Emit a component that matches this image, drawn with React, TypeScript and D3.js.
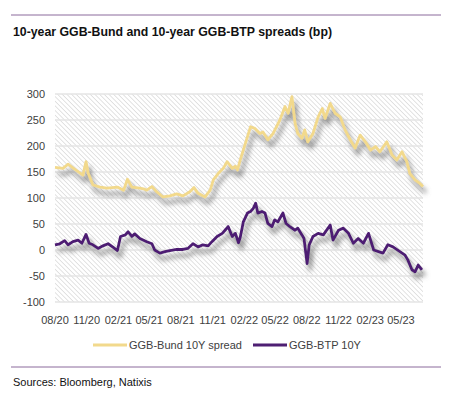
import React from 'react'
import * as d3 from 'd3'

const bundDates = [
  '2020-08-01', '2020-08-24', '2020-09-08', '2020-09-22', '2020-10-13', '2020-10-21', '2020-10-30', '2020-11-05',
  '2020-11-19', '2020-12-10', '2020-12-30', '2021-01-29', '2021-02-16', '2021-02-27', '2021-03-12', '2021-04-04',
  '2021-04-18', '2021-04-24', '2021-05-09', '2021-05-23', '2021-06-10', '2021-06-30', '2021-07-20', '2021-08-07',
  '2021-08-27', '2021-09-08', '2021-09-20', '2021-10-10', '2021-10-25', '2021-11-03', '2021-11-17', '2021-12-02',
  '2021-12-13', '2021-12-28', '2022-01-06', '2022-01-12', '2022-01-20', '2022-02-04', '2022-02-19', '2022-03-03',
  '2022-03-18', '2022-03-27', '2022-04-10', '2022-04-25', '2022-05-15', '2022-05-30', '2022-06-08', '2022-06-19',
  '2022-06-28', '2022-07-06', '2022-07-18', '2022-07-26', '2022-08-04', '2022-08-19', '2022-09-03', '2022-09-15',
  '2022-09-23', '2022-10-08', '2022-10-22', '2022-11-06', '2022-11-20', '2022-12-05', '2022-12-19', '2023-01-03',
  '2023-01-18', '2023-02-02', '2023-02-16', '2023-03-01', '2023-03-21', '2023-04-05', '2023-04-19', '2023-05-04',
  '2023-05-18', '2023-05-27', '2023-06-11', '2023-06-25', '2023-07-04',
]
const bundValues = [
  159, 157, 165, 158, 148, 144, 170, 148,
  125, 121, 119, 121, 115, 136, 121, 119,
  117, 115, 122, 112, 102, 104, 108, 104,
  112, 120, 109, 102, 115, 135, 147, 157,
  170, 157, 161, 154, 173, 205, 237, 234,
  224, 227, 212, 224, 250, 276, 263, 295,
  244, 224, 215, 231, 208, 224, 256, 272,
  253, 282, 263, 256, 231, 212, 196, 221,
  208, 192, 199, 189, 208, 183, 173, 189,
  170, 147, 135, 128, 122,
]

const btpDates = [
  '2020-08-01', '2020-08-15', '2020-08-29', '2020-09-08', '2020-09-22', '2020-10-07', '2020-10-18', '2020-10-30',
  '2020-11-08', '2020-11-19', '2020-12-04', '2020-12-18', '2021-01-02', '2021-01-17', '2021-01-29', '2021-02-07',
  '2021-02-21', '2021-03-01', '2021-03-12', '2021-03-20', '2021-04-04', '2021-04-24', '2021-05-09', '2021-05-17',
  '2021-06-01', '2021-06-16', '2021-06-30', '2021-07-20', '2021-08-07', '2021-08-21', '2021-09-05', '2021-09-20',
  '2021-10-04', '2021-10-19', '2021-10-30', '2021-11-14', '2021-11-29', '2021-12-07', '2021-12-16', '2021-12-28',
  '2022-01-06', '2022-01-15', '2022-01-20', '2022-01-29', '2022-02-10', '2022-02-19', '2022-02-27', '2022-03-06',
  '2022-03-12', '2022-03-24', '2022-04-02', '2022-04-10', '2022-04-22', '2022-04-30', '2022-05-09', '2022-05-24',
  '2022-06-02', '2022-06-13', '2022-06-28', '2022-07-06', '2022-07-18', '2022-07-24', '2022-08-02', '2022-08-08',
  '2022-08-19', '2022-09-03', '2022-09-18', '2022-10-08', '2022-10-16',
  '2022-11-01', '2022-11-15', '2022-11-30', '2022-12-14', '2022-12-28', '2023-01-12', '2023-01-27', '2023-02-11',
  '2023-02-25', '2023-03-10', '2023-03-24', '2023-04-08', '2023-04-28', '2023-05-13', '2023-05-21', '2023-06-02',
  '2023-06-11', '2023-06-20', '2023-07-01',
]
const btpValues = [
  10, 12, 18, 10, 16, 19, 13, 30,
  13, 10, 3, 8, 12, 5, -1, 26,
  29, 35, 26, 31, 22, 16, 12, 0,
  -6, -3, -1, 1, 1, 3, 12, 6,
  10, 8, 16, 26, 32, 38, 45, 26,
  32, 14, 24, 54, 71, 74, 80, 90,
  71, 74, 71, 51, 45, 58, 54, 71,
  51, 45, 38, 42, 29, 22, -26, 10,
  26, 32, 29, 48, 19,
  38, 42, 32, 13, 22, 13, 32, 0,
  -3, -6, 10, 6, -3, -10, -19, -38,
  -42, -29, -38,
]

const yTicks = [300, 250, 200, 150, 100, 50, 0, -50, -100]
const xTickDates = [
  '2020-08-01', '2020-11-01', '2021-02-01', '2021-05-01', '2021-08-01', '2021-11-01',
  '2022-02-01', '2022-05-01', '2022-08-01', '2022-11-01', '2023-02-01', '2023-05-01',
]
const seriesNames = ['GGB-Bund 10Y spread', 'GGB-BTP 10Y']
const seriesColors = ['#F2D98C', '#4E1F73']

const parse = d3.timeParse('%Y-%m-%d')
const fmt = d3.timeFormat('%m/%y')
const FONT = '"Liberation Sans", Arial, sans-serif'

export default function App() {
  const W = 468
  const H = 398
  const x = d3.scaleTime()
    .domain([parse('2020-08-01')!, parse('2023-07-04')!])
    .range([55, 423])
  const y = d3.scaleLinear().domain([-100, 300]).range([302, 94])

  const line = d3.line<[Date, number]>()
    .x(d => x(d[0]))
    .y(d => y(d[1]))

  const bund: [Date, number][] = bundDates.map((d, i) => [parse(d)!, bundValues[i]])
  const btp: [Date, number][] = btpDates.map((d, i) => [parse(d)!, btpValues[i]])

  return (
    <svg width={W} height={H} style={{ position: 'absolute', left: 0, top: 0, background: '#fff' }}
      fontFamily={FONT}>
      <defs>
        <pattern id="hatch" width="3.3" height="3.3" patternUnits="userSpaceOnUse" patternTransform="rotate(-45)">
          <line x1="0" y1="0" x2="0" y2="3.3" stroke="#cbcbcb" strokeWidth="1.1" />
        </pattern>
        <filter id="shadow" x="-10%" y="-20%" width="130%" height="160%">
          <feGaussianBlur in="SourceAlpha" stdDeviation="2.4" />
          <feOffset dx="3" dy="6" result="off" />
          <feFlood floodColor="#6e6e6e" floodOpacity="0.85" />
          <feComposite in2="off" operator="in" result="sh" />
          <feMerge>
            <feMergeNode in="sh" />
            <feMergeNode in="SourceGraphic" />
          </feMerge>
        </filter>
      </defs>

      <line x1={11} x2={441} y1={15} y2={15} stroke="#8B6A9C" strokeWidth={1} />
      <text x={13} y={36} fontSize={13} fontWeight="bold" fill="#111"
        textLength={319} lengthAdjust="spacingAndGlyphs">
        10-year GGB-Bund and 10-year GGB-BTP spreads (bp)
      </text>

      <rect x={55} y={y(300)} width={368} height={y(-100) - y(300)} fill="url(#hatch)" />
      {yTicks.map(t => (
        <g key={t}>
          <line x1={55} x2={423} y1={y(t)} y2={y(t)} stroke="#e4e4e4" strokeWidth={1.5} />
          <text x={45} y={y(t)} dy="0.35em" textAnchor="end" fontSize={11} fill="#404040">{t}</text>
        </g>
      ))}
      {xTickDates.map(d => (
        <text key={d} x={x(parse(d)!)} y={324} textAnchor="middle" fontSize={11} fill="#404040">
          {fmt(parse(d)!)}
        </text>
      ))}

      <path d={line(bund) ?? ''} fill="none" stroke={seriesColors[0]} strokeWidth={2.8}
        strokeLinejoin="round" filter="url(#shadow)" />
      <path d={line(btp) ?? ''} fill="none" stroke={seriesColors[1]} strokeWidth={2.8}
        strokeLinejoin="round" filter="url(#shadow)" />

      <line x1={93} x2={127} y1={345} y2={345} stroke={seriesColors[0]} strokeWidth={3} />
      <text x={129} y={349} fontSize={11} fill="#404040">{seriesNames[0]}</text>
      <line x1={253} x2={287} y1={345} y2={345} stroke={seriesColors[1]} strokeWidth={3} />
      <text x={289} y={349} fontSize={11} fill="#404040">{seriesNames[1]}</text>

      <line x1={11} x2={441} y1={367} y2={367} stroke="#8B6A9C" strokeWidth={1} />
      <text x={13} y={386} fontSize={11} fill="#111">Sources: Bloomberg, Natixis</text>
    </svg>
  )
}
